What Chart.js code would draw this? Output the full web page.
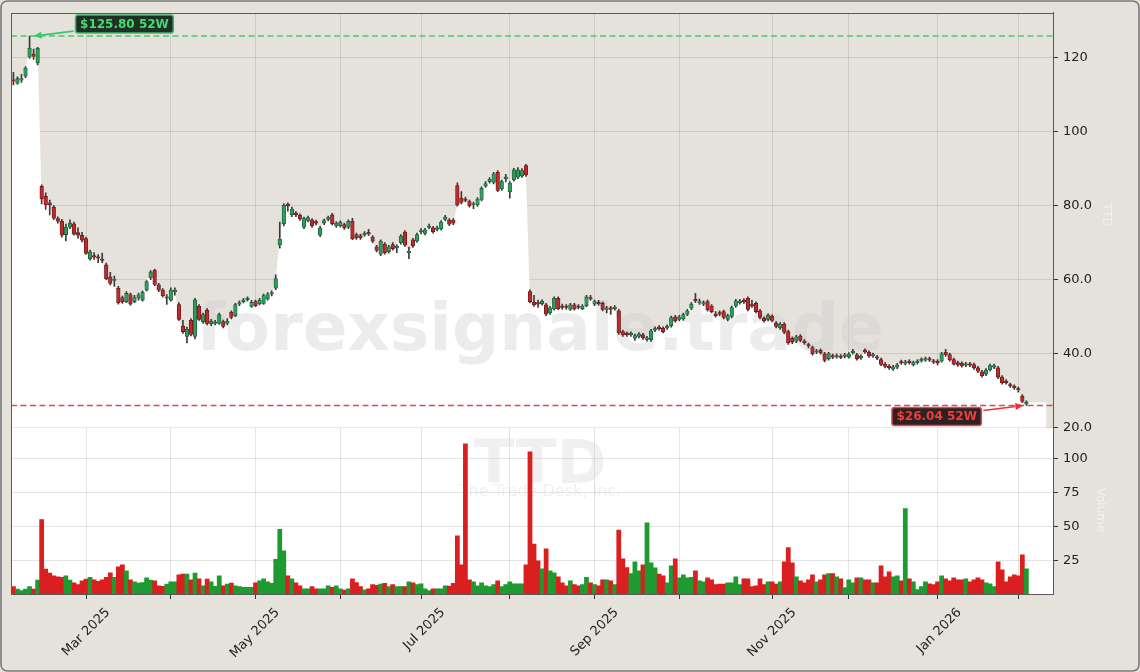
<!DOCTYPE html>
<html><head><meta charset="utf-8">
<script src="https://cdn.jsdelivr.net/npm/chart.js@4.4.0/dist/chart.umd.min.js"></script>
<style>html,body{margin:0;padding:0;background:#e5e2dc;}canvas{display:block;}</style>
</head><body>
<canvas id="c" width="1140" height="672"></canvas>
<script>
// ---- data (trading-day index 0 = 4 Feb 2025) ----
const opens = [
114.0,113.0,113.9,115.0,120.1,121.0,118.6,85.2,82.5,80.8,
79.6,76.5,75.8,72.2,74.2,75.1,72.7,72.0,71.1,65.7,
66.5,66.2,65.6,64.0,60.8,59.8,57.7,55.2,54.1,56.0,
54.1,55.0,54.5,57.2,60.5,62.6,58.6,57.2,55.0,54.5,
56.8,53.3,47.4,44.7,49.0,44.7,52.8,48.7,51.7,48.1,
48.2,48.2,48.7,48.2,51.2,50.3,53.4,54.1,54.6,52.8,
54.1,53.5,53.6,54.8,56.1,57.7,69.4,75.1,80.4,77.5,
78.0,77.4,74.2,76.0,76.1,75.7,72.0,75.3,76.3,77.5,
74.5,74.6,74.9,74.2,75.8,72.2,71.9,72.1,72.8,71.5,
68.9,66.9,69.6,67.6,69.5,68.6,70.0,72.9,67.3,70.8,
70.5,72.9,72.5,74.1,74.0,73.6,73.8,76.3,76.1,76.1,
85.4,82.0,81.8,81.1,80.2,80.2,81.7,85.3,86.5,86.3,
89.0,84.5,87.3,83.8,87.0,87.7,88.0,90.8,56.8,53.9,
53.8,53.5,53.2,51.0,52.1,55.0,52.9,52.9,52.0,53.2,
52.9,52.2,53.0,55.2,53.4,53.9,53.6,52.0,52.4,52.2,
51.6,46.0,45.5,45.1,44.2,44.7,45.1,43.9,43.8,46.4,
47.2,46.9,47.0,47.6,50.0,49.3,49.4,50.7,52.3,54.7,
53.7,53.4,54.1,52.9,50.7,51.1,51.4,49.3,50.1,52.9,
53.8,54.4,55.0,53.3,53.6,51.6,49.6,49.3,50.1,48.3,
47.0,48.0,46.0,44.2,43.4,44.8,43.4,42.5,41.7,40.4,
40.9,40.0,38.7,39.5,39.1,39.4,39.3,39.1,40.3,39.7,
38.9,40.9,40.4,39.4,39.2,38.4,37.2,36.7,35.9,36.4,
37.9,37.4,38.0,37.0,37.6,38.1,38.3,38.7,38.1,38.0,
38.0,40.4,39.8,38.4,37.6,37.4,36.9,37.3,37.1,36.2,
35.1,34.5,35.7,36.4,36.2,33.7,32.6,31.7,31.2,30.6,
28.6,26.4];
const highs = [
116.0,114.8,115.5,117.6,125.8,122.3,122.8,85.6,83.5,81.5,
80.0,77.0,76.3,75.0,76.2,75.6,74.0,72.8,71.5,68.0,
67.3,66.8,67.2,64.5,62.0,61.0,58.2,55.6,56.8,56.4,
55.8,56.4,57.0,59.8,62.5,62.9,59.0,57.6,56.0,57.8,
57.8,53.8,49.0,47.2,49.5,55.0,53.3,51.0,52.2,49.3,
49.0,51.0,49.1,49.5,51.6,53.6,54.3,55.0,55.4,54.4,
54.5,55.0,56.1,56.5,57.0,61.3,75.6,80.6,80.8,79.6,
78.4,77.8,76.9,77.2,76.5,76.1,74.4,76.4,77.2,77.9,
75.7,75.9,75.3,76.2,76.6,72.6,72.3,73.0,73.6,71.9,
69.3,70.8,70.0,69.3,70.0,69.4,72.2,73.3,68.8,71.2,
72.6,73.8,73.9,75.0,74.4,74.5,76.0,77.4,76.5,76.5,
86.2,83.8,82.3,81.5,81.0,82.2,85.1,86.5,87.6,89.0,
89.5,86.9,88.5,86.5,90.1,90.3,90.0,91.2,57.3,55.8,
54.5,54.6,53.6,52.8,55.4,55.4,53.4,53.3,53.6,53.6,
53.3,53.3,55.8,55.8,54.5,54.4,54.0,52.8,52.8,53.0,
52.0,46.4,45.9,45.9,45.3,45.7,45.5,44.7,46.6,47.3,
47.6,47.3,47.8,50.2,50.4,50.4,51.0,52.0,53.8,56.3,
54.8,54.3,54.5,53.3,51.4,51.6,51.8,50.7,52.9,54.7,
54.7,54.9,55.4,54.4,54.0,52.0,50.0,50.8,50.5,48.7,
48.4,48.4,46.4,44.6,45.0,45.2,43.8,42.9,42.1,41.2,
41.3,40.4,40.4,39.9,39.9,39.8,40.1,40.3,41.2,40.1,
39.7,41.3,40.8,40.2,39.6,38.8,37.6,37.1,36.9,37.4,
38.3,38.2,38.4,38.0,38.4,38.9,39.1,39.1,38.5,38.4,
40.4,41.2,40.2,38.8,38.0,37.8,37.7,37.7,37.5,36.6,
35.5,36.0,37.2,37.2,36.6,34.1,33.0,32.1,31.6,31.0,
29.0,27.3];
const lows = [
112.6,112.8,113.3,114.6,119.8,119.5,118.0,80.5,79.0,77.5,
76.2,75.3,71.5,70.5,73.8,72.0,71.2,70.2,66.8,65.3,
65.5,64.6,64.6,60.0,58.6,58.2,53.4,53.6,53.8,53.1,
53.8,54.5,54.2,56.9,60.0,58.4,56.8,55.3,53.3,54.2,
55.8,49.0,45.5,42.96,44.8,44.0,49.0,48.2,47.8,47.6,
47.8,47.9,47.0,47.8,49.4,50.0,53.0,53.7,54.2,52.5,
52.7,53.2,53.3,54.5,55.6,57.3,68.5,74.5,78.5,77.0,
77.0,76.0,73.8,75.6,74.1,74.8,71.6,74.9,75.9,74.8,
74.1,74.2,73.6,73.8,70.8,70.9,70.9,71.7,71.9,70.0,
67.5,66.5,66.9,67.2,68.0,67.3,69.6,69.0,65.7,68.7,
70.1,72.4,72.1,73.7,72.6,73.2,73.4,75.9,74.6,74.9,
79.9,80.5,81.0,79.6,79.2,79.8,81.3,84.9,86.1,85.9,
83.8,84.1,86.4,82.0,86.6,87.3,87.6,87.9,53.7,52.8,
52.5,53.1,50.3,50.6,51.8,51.9,52.0,52.0,51.7,51.8,
52.1,51.9,52.7,54.4,53.0,53.1,51.6,51.0,50.6,51.8,
45.2,44.7,44.7,44.7,43.6,44.3,43.9,43.4,43.3,46.0,
46.4,45.6,46.6,47.2,48.5,48.9,49.0,50.3,51.9,53.8,
53.3,53.0,51.5,51.0,49.9,50.2,49.4,48.9,49.7,52.5,
53.4,53.6,51.6,52.5,51.0,49.4,48.5,48.9,48.6,47.0,
46.6,45.4,42.5,42.7,43.0,43.2,42.5,41.6,39.6,40.0,
39.9,37.8,38.3,38.7,38.8,38.7,38.9,38.8,39.9,38.3,
38.5,40.1,39.0,39.0,38.4,36.8,36.2,35.8,35.5,36.0,
37.1,37.0,37.2,36.7,37.2,37.7,37.9,37.9,37.3,37.0,
37.7,39.3,38.0,36.9,36.6,36.4,36.5,36.5,35.8,34.9,
33.7,34.1,35.3,36.0,33.3,31.8,31.8,30.9,30.4,29.6,
26.8,26.04];
const closes = [
113.6,114.3,114.3,117.2,122.6,120.3,122.5,81.8,80.2,80.2,
76.6,75.8,72.0,74.2,75.3,72.3,72.0,70.7,67.1,67.5,
66.1,65.8,65.2,60.3,59.0,60.2,53.8,54.1,56.3,53.4,
55.2,55.9,56.6,59.5,62.1,58.7,57.2,55.7,55.4,57.2,
57.2,49.3,46.0,46.6,45.2,54.6,49.3,50.6,48.2,48.8,
48.6,50.6,47.4,48.8,49.8,53.3,53.8,54.5,55.0,53.9,
53.0,54.5,55.7,56.0,56.5,60.3,71.0,80.1,80.0,79.1,
77.6,76.4,76.5,76.8,74.5,75.3,74.0,76.0,76.8,75.1,
75.3,75.5,74.0,75.8,71.1,71.3,71.3,72.5,72.4,70.4,
67.9,70.4,67.3,68.9,68.4,69.0,71.8,69.3,67.7,69.1,
72.2,73.3,73.5,74.5,73.0,74.0,75.6,76.9,75.0,75.3,
80.2,80.9,81.4,80.0,80.6,81.8,84.7,86.0,87.1,88.6,
84.1,86.5,87.7,86.1,89.7,89.7,89.5,88.3,54.1,53.2,
53.4,54.2,50.7,52.4,55.0,52.2,52.5,52.5,53.2,52.1,
52.5,52.9,55.4,54.8,54.1,53.5,52.0,52.4,52.0,52.6,
45.6,45.1,45.1,45.5,44.9,45.3,44.3,44.3,46.2,46.8,
46.8,46.0,47.4,49.8,48.9,50.0,50.6,51.6,53.4,54.3,
54.1,53.8,51.9,51.4,50.3,50.7,49.8,50.3,52.5,54.3,
54.2,54.0,52.0,52.9,51.4,49.8,48.9,50.4,49.0,47.4,
48.0,45.8,42.9,43.1,44.6,43.6,43.0,42.1,40.0,40.8,
40.3,38.2,40.0,39.1,39.5,39.0,39.7,39.9,40.7,38.7,
39.3,40.5,39.4,39.8,38.8,37.1,36.6,36.2,36.5,37.0,
37.5,37.8,37.6,37.6,38.0,38.5,38.7,38.3,37.7,37.5,
40.0,39.7,38.4,37.2,37.0,36.8,37.3,36.9,36.2,35.3,
34.1,35.6,36.8,36.8,33.7,32.2,32.2,31.3,30.8,30.2,
27.1,26.9];
const volumes = [
5.4,3.7,2.5,3.7,5.4,3.7,10.3,55,18.4,15.4,
13.5,12.7,12.3,13.5,10.3,8.3,6.9,9.8,11,12.3,
10.5,9.3,10.5,12.3,15.7,12.3,20,21.6,17.2,10.5,
9,8,8.5,12,10.3,9.8,6,5.6,7.4,9,
9,14.2,14.7,14.7,10.5,15.4,11.3,6.1,11,9,
5.6,13.5,6.1,7.4,8.1,6.1,5.4,4.9,4.9,4.9,
8.3,9.8,11.3,9,7.8,25.7,47.8,31.9,13.5,11.3,
8.3,6.1,3.9,3.9,5.4,3.9,3.9,3.9,6.1,4.9,
6.1,3.9,2.9,3.9,11.3,8.5,5.4,3,3.9,6.9,
6.4,7.4,7.8,5.4,6.9,5.4,5.4,5.4,9,8.3,
6.9,7.6,3.9,2.5,3.9,3.9,3.9,6.1,5.9,7.8,
42.9,21.6,111,10.5,9,6.1,8.3,6.1,5.4,6.9,
9.8,5.4,6.9,9,7.6,7.6,7.6,21.6,105,36.8,
24.5,18.6,33.3,17.2,15.7,12.7,8.3,6.1,9.8,6.9,
6.1,6.9,12.3,8.3,6.9,6.1,10.5,10.5,9.8,6.9,
47.3,26,19.6,15,23.8,17.2,21.6,52.5,23,19.4,
14.7,13.5,8.3,20.8,26,12,14.2,12,12.3,17.2,
9.8,9,12,10.5,6.9,7.4,7.4,8.3,8.3,12.7,
6.9,11.3,11.3,5.4,6.1,11.3,6.9,9,9,7.4,
9,23.8,34.3,23,12.7,9.8,8.3,10.5,14.2,9,
10.5,14.2,15,15,12.7,11.3,4.7,10.5,8.3,12,
12,10.5,10.5,8.3,8.3,20.8,12.7,16.4,12.7,13.5,
9.8,63.2,11.3,9,3.2,5.4,9,7.6,6.9,9,
13.5,11.3,9.8,12,10.5,10.5,11.3,9,10.5,12,
10.5,8.3,7.6,5.4,23.8,17.9,9,12.7,14.2,13.5,
28.9,18.6];
const monthTickIdx = [18,39,60,81,101,123,144,165,188,207,229,249];
const monthTickLabels = ['Mar 2025','','May 2025','','Jul 2025','','Sep 2025','','Nov 2025','','Jan 2026',''];
const priceTicks = [20,40,60,80,100,120];
const priceTickLabels = ['20.0','40.0','60.0','80.0','100','120'];
const volTicks = [25,50,75,100];
const volTickLabels = ['25','50','75','100'];
const high52 = 125.80, high52Idx = 4;
const low52 = 26.04, low52Idx = 251;
const ticker = 'TTD', companyName = 'The Trade Desk, Inc.', watermark = 'forexsignale.trade';

// ---- styling ----
const BG = '#e5e2dc';
const UP_BODY = '#2f9d5c', UP_EDGE = '#1c5a36', DN_BODY = '#bf2a2d', DN_EDGE = '#6a1a1a';
const VOL_UP = '#1f9a30', VOL_DN = '#d91f1f';
const GRID = 'rgba(0,0,0,0.10)';
const FONT = {family: 'DejaVu Sans', size: 13};
const FILL_PAD_LEFT = 1, FILL_PAD_RIGHT = 5;   // shaded area runs a few bars past the data

const idx = closes.map((_, i) => i);
const last = closes.length - 1;
const up = i => closes[i] >= opens[i];
const fillData = [{x: -FILL_PAD_LEFT, y: closes[0]}]
  .concat(idx.map(i => ({x: i, y: closes[i]})))
  .concat([{x: last + FILL_PAD_RIGHT, y: closes[last]}]);

const bgPlugin = {
  id: 'bg',
  beforeDraw(chart) {
    const c = chart.ctx, a = chart.chartArea, v = chart.scales.yVol;
    c.save();
    c.fillStyle = BG; c.fillRect(0, 0, chart.width, chart.height);
    c.fillStyle = '#ffffff'; c.fillRect(a.left, v.top, a.right - a.left, v.bottom - v.top);
    c.restore();
  }
};
const wmPlugin = {
  id: 'wm',
  beforeDatasetsDraw(chart) {
    const c = chart.ctx;
    c.save();
    c.textAlign = 'center'; c.textBaseline = 'alphabetic';
    c.fillStyle = 'rgba(206,206,206,0.38)';
    c.font = 'bold 66px "DejaVu Sans"';
    c.fillText(watermark, 540, 350);
    c.fillStyle = 'rgba(206,206,206,0.3)';
    c.font = 'bold 60px "DejaVu Sans"';
    c.fillText(ticker, 540, 483);
    c.font = '16px "DejaVu Sans"';
    c.fillText(companyName, 540, 496);
    c.restore();
  }
};
function rr(c, x, y, w, h, r) {
  c.beginPath(); c.moveTo(x + r, y); c.lineTo(x + w - r, y); c.quadraticCurveTo(x + w, y, x + w, y + r);
  c.lineTo(x + w, y + h - r); c.quadraticCurveTo(x + w, y + h, x + w - r, y + h); c.lineTo(x + r, y + h);
  c.quadraticCurveTo(x, y + h, x, y + h - r); c.lineTo(x, y + r); c.quadraticCurveTo(x, y, x + r, y); c.closePath();
}
function arrow(c, x0, y0, x1, y1, col) {
  c.strokeStyle = col; c.fillStyle = col; c.lineWidth = 1.6; c.setLineDash([]);
  const ang = Math.atan2(y1 - y0, x1 - x0), L = 8, W = 3.5;
  const bx = x1 - L * Math.cos(ang), by = y1 - L * Math.sin(ang);
  c.beginPath(); c.moveTo(x0, y0); c.lineTo(bx, by); c.stroke();
  c.beginPath(); c.moveTo(x1, y1);
  c.lineTo(bx + W * Math.sin(ang), by - W * Math.cos(ang));
  c.lineTo(bx - W * Math.sin(ang), by + W * Math.cos(ang)); c.closePath(); c.fill();
}
function box(c, text, cx, cy, fg, bg, edge) {
  c.font = 'bold 12px "DejaVu Sans"';
  const w = c.measureText(text).width + 9, h = 18;
  rr(c, cx - w / 2, cy - h / 2, w, h, 2.5);
  c.fillStyle = bg; c.fill(); c.strokeStyle = edge; c.lineWidth = 1.5; c.setLineDash([]); c.stroke();
  c.fillStyle = fg; c.textAlign = 'center'; c.textBaseline = 'middle'; c.fillText(text, cx, cy + 0.5);
  return w;
}
const annPlugin = {
  id: 'ann',
  afterDraw(chart) {
    const c = chart.ctx, a = chart.chartArea, xs = chart.scales.x, ys = chart.scales.yPrice;
    c.save();
    const yh = ys.getPixelForValue(high52), yl = ys.getPixelForValue(low52);
    c.lineWidth = 1.5; c.setLineDash([6, 3.5]);
    c.strokeStyle = '#4cc873'; c.beginPath(); c.moveTo(a.left, yh); c.lineTo(a.right, yh); c.stroke();
    c.strokeStyle = '#e2474b'; c.beginPath(); c.moveTo(a.left, yl); c.lineTo(a.right, yl); c.stroke();
    const hx = xs.getPixelForValue(high52Idx) + 4;
    const tH = '$' + high52.toFixed(2) + ' 52W';
    c.font = 'bold 12px "DejaVu Sans"';
    const wH = c.measureText(tH).width + 9;
    const bxH = hx + 42 + wH / 2, byH = yh - 12;
    arrow(c, hx + 40, yh - 5, hx, yh, '#3cc46a');
    box(c, tH, bxH, byH, '#46d873', '#1d3124', '#3cb96a');
    const lx = xs.getPixelForValue(low52Idx) - 3;
    const tL = '$' + low52.toFixed(2) + ' 52W';
    const wL = c.measureText(tL).width + 9;
    const bxL = lx - 42 - wL / 2, byL = yl + 11;
    arrow(c, lx - 40, yl + 5, lx, yl, '#e8343a');
    box(c, tL, bxL, byL, '#f03c3c', '#2c2224', '#e04a4e');
    c.fillStyle = 'rgba(255,255,255,0.5)'; c.font = '12px "DejaVu Sans"'; c.textAlign = 'center'; c.textBaseline = 'middle';
    c.translate(1106, 215); c.rotate(Math.PI / 2); c.fillText(ticker, 0, 0); c.setTransform(1, 0, 0, 1, 0, 0);
    c.translate(1100, 510); c.rotate(Math.PI / 2); c.fillText('Volume', 0, 0); c.setTransform(1, 0, 0, 1, 0, 0);
    c.strokeStyle = '#5a5a5a'; c.lineWidth = 1;
    c.strokeRect(Math.round(a.left) + 0.5, Math.round(a.top) + 0.5, Math.round(a.right - a.left), Math.round(a.bottom - a.top));
    c.strokeStyle = '#7a7a7a'; c.lineWidth = 1.6;
    rr(c, 1, 1, chart.width - 2, chart.height - 2, 7); c.stroke();
    c.restore();
  }
};

const datasets = [
  {type: 'line', data: fillData, yAxisID: 'yPrice', xAxisID: 'x',
   borderWidth: 0, pointRadius: 0, fill: 'start', backgroundColor: '#ffffff', order: 10},
  {type: 'bar', data: idx.map(i => ({x: i, y: [lows[i], highs[i]]})), yAxisID: 'yPrice', xAxisID: 'x',
   barThickness: 1, backgroundColor: '#3a3a3a', grouped: false, order: 5},
  {type: 'bar', data: idx.map(i => ({x: i, y: [opens[i], closes[i]]})), yAxisID: 'yPrice', xAxisID: 'x',
   barThickness: 3.6, minBarLength: 1.2, grouped: false, order: 4, borderWidth: 0.8, borderSkipped: false,
   backgroundColor: ctx => up(ctx.dataIndex) ? UP_BODY : DN_BODY,
   borderColor: ctx => up(ctx.dataIndex) ? UP_EDGE : DN_EDGE},
  {type: 'bar', data: idx.map(i => ({x: i, y: volumes[i]})), yAxisID: 'yVol', xAxisID: 'x',
   barThickness: 4.1, grouped: false, order: 6,
   backgroundColor: ctx => up(ctx.dataIndex) ? VOL_UP : VOL_DN}
];

new Chart(document.getElementById('c'), {
  type: 'bar',
  data: {datasets},
  options: {
    responsive: false, animation: false, devicePixelRatio: 1,
    layout: {padding: {left: 11, top: 10, right: 0, bottom: 0}},
    plugins: {legend: {display: false}, tooltip: {enabled: false}, filler: {drawTime: 'beforeDatasetsDraw'}},
    scales: {
      x: {type: 'linear', min: -0.6, max: 257.6, offset: false, position: 'bottom', z: 1,
          grid: {color: GRID, offset: false, tickLength: 5, tickColor: '#333', drawTicks: true},
          border: {display: true, color: '#555'},
          afterBuildTicks: s => { s.ticks = monthTickIdx.map(v => ({value: v})); },
          afterFit: s => { s.height = 78; },
          ticks: {autoSkip: false, maxRotation: 45, minRotation: 45, labelOffset: 22, padding: 6,
                  color: '#222', font: FONT, callback: (v, i) => monthTickLabels[i]}},
      yPrice: {type: 'linear', position: 'right', stack: 'p', stackWeight: 2.497, weight: 0, z: 1,
          min: 20, max: 132.1,
          grid: {color: GRID, tickLength: 5, tickColor: '#333'},
          border: {display: true, color: '#555'},
          afterBuildTicks: s => { s.ticks = priceTicks.map(v => ({value: v})); },
          afterFit: s => { s.width = 87; },
          ticks: {padding: 5, color: '#222', font: FONT, callback: (v, i) => priceTickLabels[i]}},
      yVol: {type: 'linear', position: 'right', stack: 'p', stackWeight: 1, weight: 1, z: 1,
          min: 0, max: 122.8,
          grid: {color: GRID, tickLength: 5, tickColor: '#333'},
          border: {display: true, color: '#555'},
          afterBuildTicks: s => { s.ticks = volTicks.map(v => ({value: v})); },
          afterFit: s => { s.width = 87; },
          ticks: {padding: 5, color: '#222', font: FONT, callback: (v, i) => volTickLabels[i]}}
    }
  },
  plugins: [bgPlugin, wmPlugin, annPlugin]
});
</script>
</body></html>
